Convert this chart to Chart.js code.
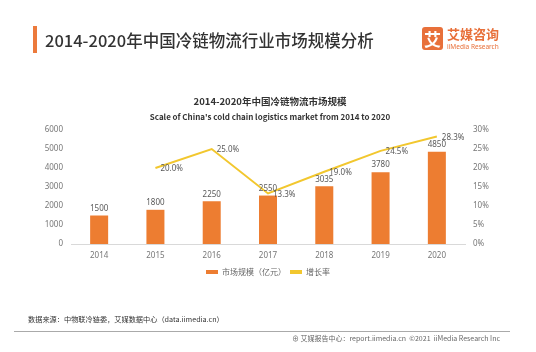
<!DOCTYPE html>
<html><head><meta charset="utf-8">
<script src="https://cdn.jsdelivr.net/npm/chart.js@4/dist/chart.umd.min.js"></script>
<style>
html,body{margin:0;padding:0;background:#fff;}
body{width:536px;height:352px;position:relative;overflow:hidden;font-family:"Noto Sans CJK SC","Noto Sans",sans-serif;}
#c{position:absolute;left:0;top:0;}
.abs{position:absolute;white-space:nowrap;}
#bar{left:33px;top:26px;width:4px;height:27px;background:#ec7a3c;}
#title{left:45px;top:28px;font-size:16.5px;font-weight:500;color:#333;line-height:24px;}
#logo{left:422px;top:27px;width:21px;height:23px;background:#e8703a;border-radius:3px;color:#fff;font-size:17px;font-weight:700;text-align:center;line-height:23px;}
#logo1{left:447px;top:26px;font-size:13px;font-weight:700;color:#e8703a;line-height:16px;}
#logo2{left:447px;top:43px;font-size:6.5px;color:#e8703a;line-height:8px;font-family:"Noto Sans",sans-serif;}
#sub1{left:0;width:540px;text-align:center;top:94px;font-size:9.5px;font-weight:700;color:#333;line-height:14px;}
#sub2{left:0;width:540px;text-align:center;top:110px;font-size:8px;font-weight:700;color:#333;line-height:14px;font-family:"Noto Sans CJK SC",sans-serif;}
#src{left:28px;top:313px;font-size:7.2px;color:#333;line-height:12px;}
#rule{left:14px;top:331px;width:496px;height:1px;background:#aaa;}
#foot{right:36px;top:333px;font-size:7px;color:#666;line-height:10px;}
</style></head>
<body>
<canvas id="c" width="536" height="352"></canvas>
<div class="abs" id="bar"></div>
<div class="abs" id="title">2014-2020年中国冷链物流行业市场规模分析</div>
<div class="abs" id="logo">艾</div>
<div class="abs" id="logo1">艾媒咨询</div>
<div class="abs" id="logo2">iiMedia Research</div>
<div class="abs" id="sub1">2014-2020年中国冷链物流市场规模</div>
<div class="abs" id="sub2">Scale of China's cold chain logistics market from 2014 to 2020</div>
<div class="abs" id="src">数据来源：中物联冷链委，艾媒数据中心（data.iimedia.cn）</div>
<div class="abs" id="rule"></div>
<div class="abs" id="foot">⊕ 艾媒报告中心：report.iimedia.cn&nbsp;&nbsp;©2021&nbsp;&nbsp;iiMedia Research Inc</div>
<script>
const years = ['2014','2015','2016','2017','2018','2019','2020'];
const marketSize = [1500, 1800, 2250, 2550, 3035, 3780, 4850];
const growthRate = [null, 20.0, 25.0, 13.3, 19.0, 24.5, 28.3];
const leftTicks = [0, 6000, 1000];
const rightTicks = [0, 30, 5];
const seriesNames = ['市场规模（亿元）', '增长率'];

const labelPlugin = {
  id: 'vals',
  afterDatasetsDraw(chart) {
    const ctx = chart.ctx;
    ctx.save();
    ctx.font = '8px "Noto Sans", sans-serif';
    ctx.fillStyle = '#595959';
    const m0 = chart.getDatasetMeta(0);
    m0.data.forEach((el, i) => {
      ctx.textAlign = 'center'; ctx.textBaseline = 'bottom';
      ctx.fillText(String(marketSize[i]), el.x, el.y - 3);
    });
    const m1 = chart.getDatasetMeta(1);
    m1.data.forEach((el, i) => {
      if (growthRate[i] == null) return;
      ctx.textAlign = 'left'; ctx.textBaseline = 'middle';
      ctx.fillText(growthRate[i].toFixed(1) + '%', el.x + 5, el.y + 1);
    });
    ctx.restore();
  }
};

new Chart(document.getElementById('c'), {
  data: {
    labels: years,
    datasets: [
      { type: 'bar', label: seriesNames[0], data: marketSize, backgroundColor: '#ed7d31', yAxisID: 'y', barPercentage: 0.32, categoryPercentage: 1, order: 2 },
      { type: 'line', label: seriesNames[1], data: growthRate, borderColor: '#f2c72e', backgroundColor: '#f2c72e', borderWidth: 2, pointRadius: 0, tension: 0, yAxisID: 'y1', order: 1 }
    ]
  },
  options: {
    responsive: false,
    animation: false,
    layout: { padding: { top: 130, bottom: 66, left: 0, right: 0 } },
    plugins: {
      legend: {
        position: 'bottom',
        labels: {
          boxWidth: 12, boxHeight: 4, padding: 4, color: '#666',
          font: { size: 8, family: '"Noto Sans CJK SC", sans-serif' },
          sort: (a, b) => a.datasetIndex - b.datasetIndex,
          generateLabels(chart) {
            const items = Chart.defaults.plugins.legend.labels.generateLabels(chart);
            items.forEach(it => {
              if (it.datasetIndex === 1) { it.lineWidth = 0; }
            });
            return items;
          }
        }
      },
      tooltip: { enabled: false }
    },
    scales: {
      x: {
        grid: { display: false, drawTicks: false },
        border: { color: '#d9d9d9' },
        ticks: { color: '#777', font: { size: 8, family: '"Noto Sans", sans-serif' }, padding: 7 },
        afterFit(s) { s.height = 20; }
      },
      y: {
        position: 'left', min: leftTicks[0], max: leftTicks[1],
        grid: { display: false, drawTicks: false },
        border: { display: false },
        ticks: { stepSize: leftTicks[2], color: '#777', padding: 8, font: { size: 8, family: '"Noto Sans", sans-serif' }, callback: v => String(v) },
        afterFit(s) { s.width = 71; }
      },
      y1: {
        position: 'right', min: rightTicks[0], max: rightTicks[1],
        grid: { display: false, drawTicks: false },
        border: { display: false },
        ticks: { stepSize: rightTicks[2], color: '#777', padding: 8, font: { size: 8, family: '"Noto Sans", sans-serif' }, callback: v => v + '%' },
        afterFit(s) { s.width = 71; }
      }
    }
  },
  plugins: [labelPlugin]
});
</script>
</body></html>
